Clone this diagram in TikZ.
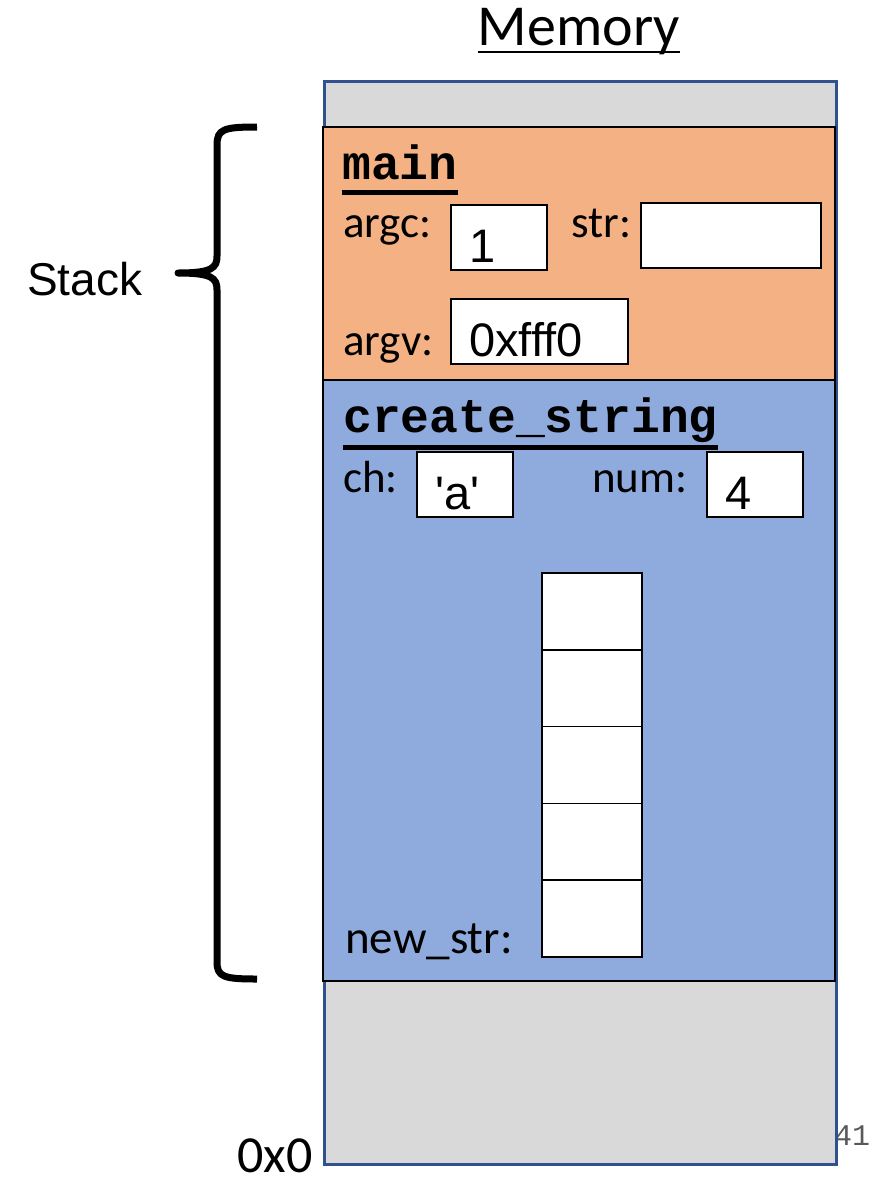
\documentclass[tikz,border=0pt]{standalone}
\usepackage{fontspec}
\setmainfont{Carlito}
\setmonofont{Liberation Mono}
\newfontfamily\arialfont{Liberation Sans}
\usetikzlibrary{positioning}
\definecolor{memgray}{HTML}{D9D9D9}
\definecolor{mainorange}{HTML}{F4B183}
\definecolor{frameblue}{HTML}{8FAADC}
\definecolor{memborder}{HTML}{2F528F}
\definecolor{pagenum}{HTML}{595959}

\begin{document}
\begin{tikzpicture}[
    x=1pt, y=-1pt,
    title/.style={inner sep=0pt, anchor=base, font=\fontsize{58}{64}\selectfont},
    region/.style={rectangle, draw=black, line width=2pt, inner sep=0pt, outer sep=0pt, anchor=north west, minimum width=512pt},
    cell/.style={rectangle, draw=black, line width=1.6pt, fill=white, inner sep=0pt, outer sep=0pt, anchor=north west},
    lbl/.style={inner sep=0pt, anchor=base west, font=\fontsize{45}{50}\selectfont},
    val/.style={inner sep=0pt, anchor=base west, font=\arialfont\fontsize{47}{52}\selectfont},
    fname/.style={inner sep=0pt, anchor=base west, font=\ttfamily\bfseries\fontsize{48}{52}\selectfont},
    uline/.style={line width=5pt},
]
\useasboundingbox (0,0) rectangle (879,1181);

% memory column
\node[title] (memtitle) at (579,45) {Memory};
\draw[line width=2.5pt] ([yshift=-7pt]memtitle.base west) -- ([yshift=-7pt]memtitle.base east);
\node[inner sep=0pt, anchor=base west, font=\ttfamily\fontsize{30}{34}\selectfont, text=pagenum] (slidenum) at (834,1145) {41};
\node[rectangle, draw=memborder, line width=2.5pt, fill=memgray, inner sep=0pt, anchor=north west,
      minimum width=512pt, minimum height=1083pt] (mem) at (323,80) {};
\node[region, fill=mainorange, minimum height=253pt] (mainframe) at (323,127) {};
\node[region, fill=frameblue, minimum height=601pt] (csframe) at (323,380) {};

% main frame
\node[fname] (mainname) at (342,179) {main};
\draw[uline] ([yshift=-13pt]mainname.base west) -- ([yshift=-13pt]mainname.base east);
\node[lbl] (argclbl) at (343,237) {argc:};
\node[cell, minimum width=96pt, minimum height=65pt] (argcbox) at (451,205) {};
\node[val] (argcval) at ([xshift=18pt, yshift=8pt]argcbox.south west) {1};
\node[lbl] (strlbl) at (571,237) {str:};
\node[cell, minimum width=180pt, minimum height=65pt] (strbox) at (641,203) {};
\node[lbl] (argvlbl) at (343,355) {argv:};
\node[cell, minimum width=177pt, minimum height=65pt] (argvbox) at (451,299) {};
\node[val] (argvval) at ([xshift=18pt, yshift=8pt]argvbox.south west) {0xfff0};

% create_string frame
\node[fname] (csname) at (343,432) {create\_string};
\draw[uline] ([yshift=-15pt]csname.base west) -- ([yshift=-15pt]csname.base east);
\node[lbl] (chlbl) at (343,492) {ch:};
\node[cell, minimum width=96pt, minimum height=65pt] (chbox) at (417,452) {};
\node[val] (chval) at ([xshift=18pt, yshift=8pt]chbox.south west) {\textquotesingle a\textquotesingle};
\node[lbl] (numlbl) at (592,492) {num:};
\node[cell, minimum width=96pt, minimum height=65pt] (numbox) at (707,452) {};
\node[val] (numval) at ([xshift=18pt, yshift=8pt]numbox.south west) {4};

% new_str array
\node[cell, minimum width=100pt, minimum height=76.8pt] (str0) at (542,573) {};
\node[cell, minimum width=100pt, minimum height=76.8pt, below=0pt of str0] (str1) {};
\node[cell, minimum width=100pt, minimum height=76.8pt, below=0pt of str1] (str2) {};
\node[cell, minimum width=100pt, minimum height=76.8pt, below=0pt of str2] (str3) {};
\node[cell, minimum width=100pt, minimum height=76.8pt, below=0pt of str3] (str4) {};
\node[lbl, font=\fontsize{47}{52}\selectfont] (newstrlbl) at (345,953) {new\_str:};

% stack brace
\coordinate (bracetop) at (257,127);
\coordinate (bracetip) at (178,273);
\coordinate (bracebot) at (257,979);
\draw[line width=7pt, line join=round]
    (bracetop) .. controls (224,127) and (217,129) .. (217,145) -- (217,256)
    .. controls (217,268) and (212,273) .. (bracetip)
    .. controls (212,273) and (217,278) .. (217,290) -- (217,962)
    .. controls (217,977) and (224,979) .. (bracebot);
\node[inner sep=0pt, anchor=base west, font=\arialfont\fontsize{46}{50}\selectfont] (stacklbl) at (27,295) {Stack};

% address
\node[inner sep=0pt, anchor=base west, font=\fontsize{52}{56}\selectfont] (zeroaddr) at (237,1172) {0x0};
\end{tikzpicture}
\end{document}
